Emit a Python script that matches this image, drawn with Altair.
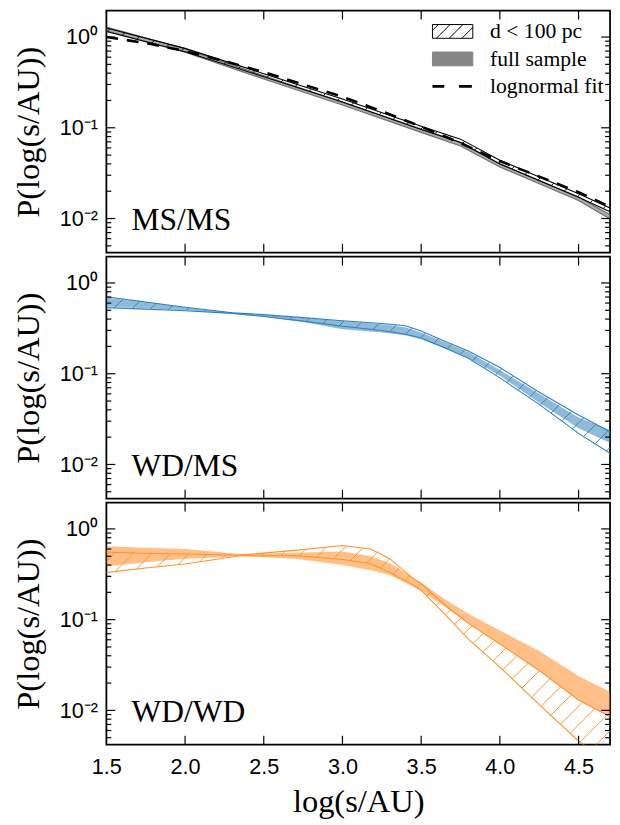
import altair as alt
import numpy as np
import pandas as pd

# ---------------- data ----------------
XMIN, XMAX = 1.5, 4.7
YMIN, YMAX = 0.0042, 1.95

x_ticks = [1.5, 2.0, 2.5, 3.0, 3.5, 4.0, 4.5]
y_major = [1.0, 0.1, 0.01]
y_minor = [0.005, 0.006, 0.007, 0.008, 0.009,
           0.02, 0.03, 0.04, 0.05, 0.06, 0.07, 0.08, 0.09,
           0.2, 0.3, 0.4, 0.5, 0.6, 0.7, 0.8, 0.9]

# MS/MS
ms_x = [1.5, 2.0, 2.5, 3.0, 3.5, 3.75, 4.0, 4.5, 4.7]
ms_full_lo = [1.17, 0.68, 0.345, 0.178, 0.089, 0.063, 0.037, 0.0158, 0.0099]
ms_full_hi = [1.29, 0.74, 0.375, 0.192, 0.097, 0.069, 0.040, 0.0173, 0.0110]
ms_near_lo = [1.15, 0.69, 0.365, 0.192, 0.096, 0.069, 0.040, 0.0172, 0.0119]
ms_near_hi = [1.26, 0.75, 0.395, 0.208, 0.104, 0.075, 0.044, 0.0188, 0.0131]
ms_fit_x = [1.5, 1.75, 2.0, 2.25, 2.5, 2.75, 3.0, 3.25, 3.5, 3.75, 4.0, 4.25, 4.5, 4.7]
ms_fit_y = [1.00, 0.86, 0.70, 0.545, 0.41, 0.30, 0.22, 0.152, 0.103, 0.068, 0.043, 0.029, 0.0195, 0.0135]

# WD/MS
wm_x = [1.5, 1.75, 2.0, 2.3, 2.5, 2.75, 3.0, 3.25, 3.4, 3.5, 3.65, 3.8, 4.0, 4.25, 4.5, 4.7]
wm_near_lo = [0.535, 0.515, 0.495, 0.462, 0.428, 0.38, 0.333, 0.30, 0.272, 0.247, 0.193, 0.148, 0.090, 0.046, 0.022, 0.0133]
wm_near_hi = [0.705, 0.615, 0.54, 0.47, 0.448, 0.415, 0.383, 0.358, 0.338, 0.295, 0.228, 0.178, 0.117, 0.0626, 0.035, 0.0229]
wm_full_lo = [0.55, 0.525, 0.50, 0.458, 0.425, 0.372, 0.31, 0.285, 0.265, 0.24, 0.19, 0.15, 0.095, 0.048, 0.025, 0.0172]
wm_full_hi = [0.69, 0.605, 0.535, 0.472, 0.446, 0.41, 0.38, 0.35, 0.325, 0.285, 0.222, 0.173, 0.11, 0.06, 0.033, 0.024]

# WD/WD
ww_x = [1.5, 1.75, 2.0, 2.35, 2.7, 3.0, 3.18, 3.3, 3.45, 3.5, 3.65, 3.8, 4.0, 4.25, 4.5, 4.7]
ww_near_hi = [0.555, 0.54, 0.53, 0.515, 0.58, 0.656, 0.60, 0.47, 0.283, 0.25, 0.145, 0.091, 0.054, 0.0275, 0.013, 0.0085]
ww_near_lo = [0.33, 0.37, 0.41, 0.505, 0.51, 0.46, 0.414, 0.33, 0.24, 0.21, 0.115, 0.061, 0.030, 0.0116, 0.0046, 0.0026]
ww_full_hi = [0.645, 0.62, 0.60, 0.53, 0.545, 0.563, 0.50, 0.42, 0.29, 0.255, 0.168, 0.116, 0.076, 0.045, 0.024, 0.016]
ww_full_lo = [0.386, 0.43, 0.47, 0.50, 0.47, 0.40, 0.35, 0.31, 0.23, 0.205, 0.14, 0.09, 0.054, 0.0275, 0.013, 0.0085]

panel_names = ["MS/MS", "WD/MS", "WD/WD"]
label_pos = (1.66, 0.0074)

legend_labels = ["d < 100 pc", "full sample", "lognormal fit"]

# ---------------- styling ----------------
W, H = 512, 246
SANS = "Liberation Sans"
SERIF = "Liberation Serif"

xscale = alt.Scale(domain=[XMIN, XMAX], nice=False, zero=False)
yscale = alt.Scale(type="log", domain=[YMIN, YMAX], nice=False)

yaxis = alt.Axis(values=y_major,
                 labelExpr="datum.value > 0.5 ? '10\u2070' : (datum.value > 0.05 ? '10\u207b\u00b9' : '10\u207b\u00b2')",
                 ticks=False, tickSize=0, domain=False, grid=False,
                 labelFont=SANS, labelFontSize=22, labelPadding=9, labelColor="black",
                 title="P(log(s/AU))", titleFont=SERIF, titleFontSize=33, titleFontWeight="normal",
                 titleAngle=270, titleX=-79, titleY=H / 2, titleAlign="center",
                 titleBaseline="middle", titleColor="black")

xaxis_bottom = alt.Axis(values=x_ticks, format=".1f", ticks=False, tickSize=0, domain=False,
                        grid=False, labelFont=SANS, labelFontSize=22, labelPadding=12,
                        labelColor="black", labelFlush=False,
                        title="log(s/AU)", titleFont=SERIF, titleFontSize=33,
                        titleFontWeight="normal", titlePadding=9, titleColor="black")


def xe(field, bottom):
    if bottom:
        return alt.X(field, type="quantitative", scale=xscale, axis=xaxis_bottom)
    return alt.X(field, type="quantitative", scale=xscale, axis=None)


def ye(field):
    return alt.Y(field, type="quantitative", scale=yscale, axis=yaxis)


def band_df(x, lo, hi):
    return pd.DataFrame({"x": x, "lo": lo, "hi": hi})


def edges_df(x, lo, hi):
    a = pd.DataFrame({"x": x, "y": lo, "edge": "lo"})
    b = pd.DataFrame({"x": x, "y": hi, "edge": "hi"})
    return pd.concat([a, b], ignore_index=True)


def hatch_df(x, lo, hi, spacing=19.0):
    # 45-degree "/" hatch lines (rising to the right) clipped to the band
    Px = W / (XMAX - XMIN)
    Py = H / np.log10(YMAX / YMIN)
    Lmax = np.log10(YMAX)
    xd = np.linspace(XMIN, XMAX, 3201)
    Llo = np.interp(xd, x, np.log10(lo))
    Lhi = np.interp(xd, x, np.log10(hi))
    X = (xd - XMIN) * Px
    rows = []
    k = 0
    for c in np.arange(-3 * H, W + 3 * H, spacing):
        L = Lmax - (c - X) / Py
        inside = (L >= Llo) & (L <= Lhi)
        idx = np.where(inside)[0]
        if len(idx) < 2:
            continue
        i0, i1 = idx[0], idx[-1]
        rows.append({"seg": k, "x": xd[i0], "y": 10 ** L[i0]})
        rows.append({"seg": k, "x": xd[i1], "y": 10 ** L[i1]})
        k += 1
    return pd.DataFrame(rows)


def tick_layers(bottom):
    layers = []
    ymaj = pd.DataFrame({"v": y_major})
    ymin = pd.DataFrame({"v": y_minor})
    xt = pd.DataFrame({"v": x_ticks[1:]})
    for df, ln in [(ymaj, 9), (ymin, 5)]:
        layers.append(alt.Chart(df).mark_rule(color="black", strokeWidth=1.2).encode(
            y=ye("v"), x=alt.value(0), x2=alt.value(ln)))
        layers.append(alt.Chart(df).mark_rule(color="black", strokeWidth=1.2).encode(
            y=ye("v"), x=alt.value(W), x2=alt.value(W - ln)))
    layers.append(alt.Chart(xt).mark_rule(color="black", strokeWidth=1.2).encode(
        x=xe("v", bottom), y=alt.value(0), y2=alt.value(9)))
    layers.append(alt.Chart(xt).mark_rule(color="black", strokeWidth=1.2).encode(
        x=xe("v", bottom), y=alt.value(H), y2=alt.value(H - 9)))
    return layers


def panel(name, fx, flo, fhi, hx, hlo, hhi, fill_color, fill_op, edge_color,
          fill_edges=None, extra=(), bottom=False):
    layers = []
    layers.append(alt.Chart(band_df(fx, flo, fhi)).mark_area(
        color=fill_color, opacity=fill_op, clip=True).encode(
        x=xe("x", bottom), y=ye("hi"), y2="lo"))
    if fill_edges:
        layers.append(alt.Chart(edges_df(fx, flo, fhi)).mark_line(
            color=fill_edges, strokeWidth=1.2, clip=True).encode(
            x=xe("x", bottom), y=ye("y"), detail="edge:N"))
    layers.append(alt.Chart(hatch_df(hx, hlo, hhi)).mark_line(
        color=edge_color, strokeWidth=1.0, clip=True).encode(
        x=xe("x", bottom), y=ye("y"), detail="seg:N"))
    layers.append(alt.Chart(edges_df(hx, hlo, hhi)).mark_line(
        color=edge_color, strokeWidth=1.1, clip=True).encode(
        x=xe("x", bottom), y=ye("y"), detail="edge:N"))
    layers.extend(extra)
    layers.extend(tick_layers(bottom))
    layers.append(alt.Chart(pd.DataFrame({"x": [label_pos[0]], "y": [label_pos[1]], "t": [name]}))
                  .mark_text(align="left", baseline="alphabetic", font=SERIF, fontSize=32,
                             color="black").encode(x=xe("x", bottom), y=ye("y"), text="t:N"))
    return alt.layer(*layers).properties(
        width=W, height=H, view=alt.ViewBackground(stroke="black", strokeWidth=1.8))


# lognormal fit + legend (top panel only)
fit_layer = alt.Chart(pd.DataFrame({"x": ms_fit_x, "y": ms_fit_y})).mark_line(
    color="black", strokeWidth=2.6, strokeDash=[12, 9], clip=True).encode(
    x=xe("x", False), y=ye("y"))

hatch_path = ("M-2.05,-0.7H2.05V0.7H-2.05Z M-1.65,0.7L-0.25,-0.7 M-0.35,0.7L1.05,-0.7 "
              "M0.95,0.7L2.05,-0.4 M-2.05,-0.1L-1.45,-0.7")
box_path = "M-2.05,-0.7H2.05V0.7H-2.05Z"
dash_path = "M-2.05,-0.14H-0.85V0.14H-2.05Z M0.65,-0.14H1.95V0.14H0.65Z"

leg = alt.Legend(title=None, orient="none", legendX=341, legendY=10, padding=0,
                 symbolSize=400, symbolStrokeWidth=1, labelFont=SERIF, labelFontSize=22,
                 labelColor="black", labelOffset=27, rowPadding=6, labelLimit=300)
legend_layer = alt.Chart(pd.DataFrame({"lab": legend_labels})).mark_point(
    filled=True, clip=True, opacity=1).encode(
    x=alt.value(-500), y=alt.value(-500),
    shape=alt.Shape("lab:N", scale=alt.Scale(domain=legend_labels,
                                             range=[hatch_path, box_path, dash_path]), legend=leg),
    fill=alt.Fill("lab:N", scale=alt.Scale(domain=legend_labels,
                                           range=["white", "#858585", "black"]), legend=leg),
    stroke=alt.Stroke("lab:N", scale=alt.Scale(domain=legend_labels,
                                               range=["black", "#858585", "transparent"]), legend=leg),
)

p1 = panel(panel_names[0], ms_x, ms_full_lo, ms_full_hi, ms_x, ms_near_lo, ms_near_hi,
           "#808080", 0.65, "black", fill_edges="#6e6e6e",
           extra=[fit_layer, legend_layer], bottom=False)
p2 = panel(panel_names[1], wm_x, wm_full_lo, wm_full_hi, wm_x, wm_near_lo, wm_near_hi,
           "#1f77b4", 0.5, "#2f81c0", bottom=False)
p3 = panel(panel_names[2], ww_x, ww_full_lo, ww_full_hi, ww_x, ww_near_lo, ww_near_hi,
           "#ff7f0e", 0.5, "#ff9330", bottom=True)

chart = alt.vconcat(p1, p2, p3, spacing=0).properties(
    padding={"left": 4, "top": -6, "right": 0, "bottom": 0},
    background="white",
).configure_view(stroke="black", strokeWidth=1.8)

chart.save("out.html", embed_options={"renderer": "svg", "actions": False})
